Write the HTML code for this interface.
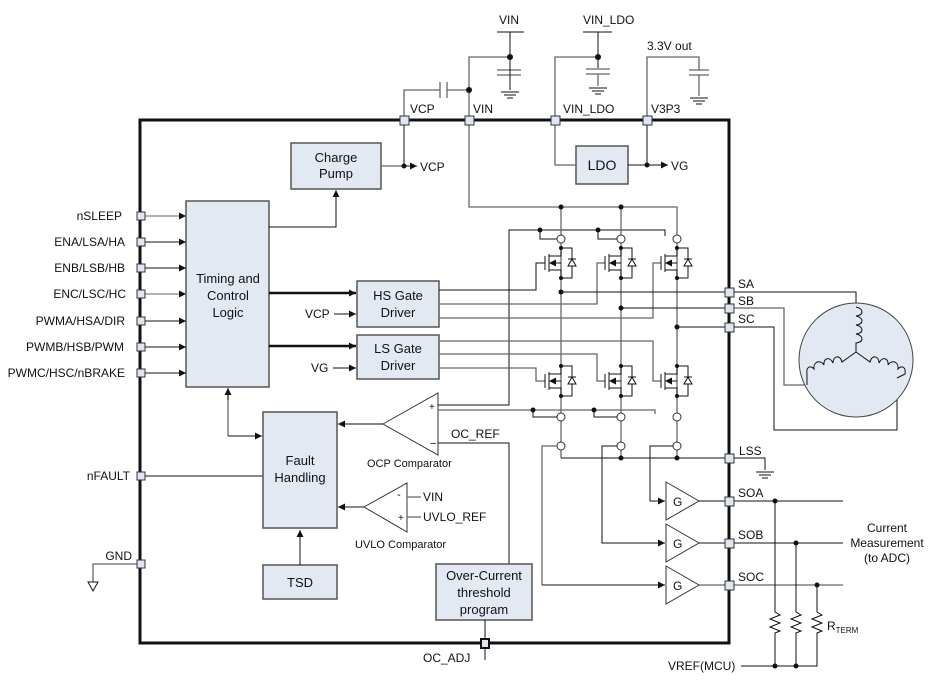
<!DOCTYPE html>
<html><head><meta charset="utf-8"><style>
html,body{margin:0;padding:0;background:#fff;}
svg{display:block;}
text{font-family:"Liberation Sans",Arial,sans-serif;font-size:12px;fill:#111;}
.bx{fill:#e3e9f3;stroke:#555;stroke-width:1.5;}
.pin{fill:#dfe6f0;stroke:#333;stroke-width:1;}
.w{stroke:#111;stroke-width:1;fill:none;}
.g{stroke:#666;stroke-width:1.3;fill:none;}
.k{stroke:#111;stroke-width:2.5;fill:none;}
</style></head><body>
<svg width="934" height="683" viewBox="0 0 934 683" xmlns="http://www.w3.org/2000/svg">
<defs>
<marker id="a" viewBox="0 0 10 10" refX="10" refY="5" markerWidth="7" markerHeight="7" markerUnits="userSpaceOnUse" orient="auto"><path d="M0,0 L10,5 L0,10 z" fill="#111"/></marker>
<g id="fet">
<path class="w" d="M0,0 V8 H-12 M-12,6 V24 M-12,22 H0 V30 M-16,8 V22 M-6,15 H0"/>
<path d="M-12,15 l7,-3.5 v7 z" fill="#111"/>
<path class="w" d="M0,0 H11 V30 H0 M7,11 H15"/>
<path d="M7,18 L15,18 L11,11 z" fill="#fff" stroke="#111" stroke-width="1"/>
<circle cx="0" cy="0" r="2" fill="#111"/><circle cx="0" cy="30" r="2" fill="#111"/>
</g>
<g id="gnd"><path class="w" d="M-9,0 H9 M-6,3 H6 M-3,6 H3"/></g>
<g id="res"><path class="w" d="M0,0 V8 l5,3 l-10,4 l10,4 l-10,4 l10,4 l-5,2 V37"/></g>
</defs>

<!-- Main box -->
<rect x="140" y="120" width="589" height="523" fill="none" stroke="#111" stroke-width="3"/>

<!-- top external circuitry -->
<text x="499" y="24">VIN</text>
<path class="w" d="M497,32 H524 M510,32 V87"/>
<path class="g" d="M469,120 V57 H510 M497,70 H521 M497,75 H521"/>
<path class="w" d="M510,57 V90"/>
<use href="#gnd" x="510" y="92"/>
<circle cx="510" cy="57" r="3" fill="#111"/>
<path class="g" d="M404,120 V90 H440 M447,90 H469 M440,82 V98 M447,82 V98"/>
<circle cx="469" cy="90" r="3" fill="#111"/>

<text x="583" y="24">VIN_LDO</text>
<path class="w" d="M583,32 H612 M598,32 V68"/>
<path class="g" d="M555,120 V57 H598 M586,69 H610 M586,74 H610 M598,74 V86"/>
<use href="#gnd" x="598" y="88"/>
<circle cx="598" cy="57" r="3" fill="#111"/>

<text x="647" y="50">3.3V out</text>
<path class="g" d="M647,120 V57 H699 V70 M689,70 H709 M689,75 H709 M699,75 V96"/>
<use href="#gnd" x="699" y="98"/>

<!-- pin labels top -->
<text x="410" y="113">VCP</text>
<text x="473" y="113">VIN</text>
<text x="563" y="113">VIN_LDO</text>
<text x="651" y="113">V3P3</text>

<!-- LDO -->
<path class="g" d="M555,120 V165 H576"/>
<rect class="bx" x="576" y="146" width="52" height="38"/>
<text x="602" y="170" text-anchor="middle" style="font-size:14px">LDO</text>
<path class="w" d="M628,165 H647 M647,120 V165"/>
<path class="w" d="M647,165 H668" marker-end="url(#a)"/>
<circle cx="647" cy="165" r="2.5" fill="#111"/>
<text x="671" y="170">VG</text>

<!-- Charge pump -->
<rect class="bx" x="291" y="143" width="90" height="46"/>
<text x="336" y="162" text-anchor="middle" style="font-size:13px">Charge</text>
<text x="336" y="178" text-anchor="middle" style="font-size:13px">Pump</text>
<path class="g" d="M381,166 H403"/>
<path class="w" d="M404,120 V166"/>
<path class="w" d="M403,166 H417" marker-end="url(#a)"/>
<circle cx="404" cy="166" r="2.5" fill="#111"/>
<text x="420" y="171">VCP</text>

<!-- Timing -->
<rect class="bx" x="186" y="201" width="83" height="186"/>
<text x="228" y="283" text-anchor="middle" style="font-size:13px">Timing and</text>
<text x="228" y="300" text-anchor="middle" style="font-size:13px">Control</text>
<text x="228" y="317" text-anchor="middle" style="font-size:13px">Logic</text>
<path class="w" d="M269,227 H336 V190" marker-end="url(#a)"/>

<!-- left pins -->
<g class="w">
<path d="M145,216 H186" marker-end="url(#a)" stroke="#666"/>
<path d="M145,242 H186" marker-end="url(#a)"/>
<path d="M145,268 H186" marker-end="url(#a)"/>
<path d="M145,294 H186" marker-end="url(#a)" stroke="#666"/>
<path d="M145,321 H186" marker-end="url(#a)"/>
<path d="M145,347 H186" marker-end="url(#a)"/>
<path d="M145,373 H186" marker-end="url(#a)"/>
</g>
<g text-anchor="end">
<text x="122" y="220">nSLEEP</text>
<text x="125" y="246">ENA/LSA/HA</text>
<text x="125" y="272">ENB/LSB/HB</text>
<text x="126" y="298">ENC/LSC/HC</text>
<text x="125" y="325">PWMA/HSA/DIR</text>
<text x="124" y="351">PWMB/HSB/PWM</text>
<text x="125" y="377">PWMC/HSC/nBRAKE</text>
<text x="130" y="480">nFAULT</text>
<text x="132" y="560">GND</text>
</g>
<rect class="pin" x="137" y="212" width="8" height="8"/>
<rect class="pin" x="137" y="238" width="8" height="8"/>
<rect class="pin" x="137" y="264" width="8" height="8"/>
<rect class="pin" x="137" y="290" width="8" height="8"/>
<rect class="pin" x="137" y="317" width="8" height="8"/>
<rect class="pin" x="137" y="343" width="8" height="8"/>
<rect class="pin" x="137" y="369" width="8" height="8"/>
<path class="w" d="M145,476 H263"/>
<rect class="pin" x="137" y="472" width="8" height="8"/>
<path class="g" d="M137,564 H93 V582"/>
<path d="M88,582 H98 L93,591 z" fill="#fff" stroke="#111"/>
<rect class="pin" x="137" y="560" width="8" height="8"/>

<!-- Gate drivers -->
<rect class="bx" x="357" y="281" width="82" height="46"/>
<text x="398" y="300" text-anchor="middle" style="font-size:13px">HS Gate</text>
<text x="398" y="317" text-anchor="middle" style="font-size:13px">Driver</text>
<rect class="bx" x="357" y="335" width="82" height="44"/>
<text x="398" y="353" text-anchor="middle" style="font-size:13px">LS Gate</text>
<text x="398" y="370" text-anchor="middle" style="font-size:13px">Driver</text>
<path d="M269,293 H356" stroke="#111" stroke-width="2.5" marker-end="url(#a)"/>
<path d="M269,346 H356" stroke="#111" stroke-width="2.5" marker-end="url(#a)"/>
<text x="305" y="318">VCP</text>
<path class="w" d="M334,314 H356" marker-end="url(#a)"/>
<text x="311" y="372">VG</text>
<path class="w" d="M333,368 H356" marker-end="url(#a)"/>

<!-- Fault handling -->
<path class="g" d="M228,391 V436"/>
<path class="w" d="M228,400 V388" marker-end="url(#a)"/>
<path class="w" d="M228,436 H262" marker-end="url(#a)"/>
<rect class="bx" x="263" y="412" width="74" height="116"/>
<text x="300" y="465" text-anchor="middle" style="font-size:13px">Fault</text>
<text x="300" y="482" text-anchor="middle" style="font-size:13px">Handling</text>
<rect class="bx" x="263" y="565" width="74" height="34"/>
<text x="300" y="587" text-anchor="middle" style="font-size:13px">TSD</text>
<path class="w" d="M300,565 V530" marker-end="url(#a)"/>

<!-- OCP comparator -->
<path d="M383,424 L438,393 L438,455 z" fill="#fff" stroke="#333"/>
<text x="429" y="410" style="font-size:10px">+</text>
<text x="430" y="447" style="font-size:11px">−</text>
<path class="w" d="M383,424 H338" marker-end="url(#a)"/>
<path class="w" d="M438,405 H509 V230 H665 V236"/>
<path class="g" d="M438,410 H655 V414"/>
<path class="w" d="M438,443 H509 V564"/>
<text x="451" y="438">OC_REF</text>
<text x="367" y="467" style="font-size:11px">OCP Comparator</text>

<!-- UVLO -->
<path d="M364,507 L407,483 L407,532 z" fill="#fff" stroke="#333"/>
<text x="397" y="498" style="font-size:11px">-</text>
<text x="398" y="521" style="font-size:10px">+</text>
<path class="g" d="M407,497 H421 M407,517 H421"/>
<text x="423" y="501">VIN</text>
<text x="423" y="521">UVLO_REF</text>
<path class="w" d="M364,507 H338" marker-end="url(#a)"/>
<text x="355" y="548" style="font-size:11px">UVLO Comparator</text>

<!-- OC threshold -->
<rect class="bx" x="436" y="564" width="96" height="56"/>
<text x="484" y="580" text-anchor="middle" style="font-size:13px">Over-Current</text>
<text x="484" y="597" text-anchor="middle" style="font-size:13px">threshold</text>
<text x="484" y="614" text-anchor="middle" style="font-size:13px">program</text>
<path class="w" d="M485,620 V660"/>
<rect x="481" y="639" width="8" height="9" fill="#dfe6f0" stroke="#111" stroke-width="2"/>
<text x="423" y="662">OC_ADJ</text>

<!-- bridge -->
<path class="g" d="M469,120 V207 H677 V236"/>
<path class="g" d="M561,207 V458 M621,207 V458 M677,236 V458"/>
<circle cx="561" cy="207" r="2.5" fill="#111"/><circle cx="621" cy="207" r="2.5" fill="#111"/>
<path class="w" d="M540,230 V239 H557 M598,230 V239 H617"/>
<circle cx="540" cy="230" r="2.5" fill="#111"/><circle cx="598" cy="230" r="2.5" fill="#111"/>
<!-- HS gate lines -->
<path class="w" d="M439,290 H536 V263 H545"/>
<path class="g" d="M439,304 H597 V263 H605"/>
<path class="g" d="M439,318 H653 V263 H661"/>
<!-- LS gate lines -->
<path class="g" d="M439,341 H653 V381 H661"/>
<path class="g" d="M439,354 H597 V381 H605"/>
<path class="g" d="M439,368 H536 V381 H545"/>
<use href="#fet" x="561" y="248"/><use href="#fet" x="621" y="248"/><use href="#fet" x="677" y="248"/>
<use href="#fet" x="561" y="366"/><use href="#fet" x="621" y="366"/><use href="#fet" x="677" y="366"/>
<!-- sense circles -->
<g fill="#fff" stroke="#333">
<circle cx="561" cy="239" r="4"/><circle cx="621" cy="239" r="4"/><circle cx="677" cy="239" r="4"/>
<circle cx="561" cy="417" r="4"/><circle cx="621" cy="417" r="4"/><circle cx="677" cy="417" r="4"/>
<circle cx="561" cy="446" r="4"/><circle cx="621" cy="446" r="4"/><circle cx="677" cy="446" r="4"/>
</g>
<path class="w" d="M533,410 V417 H557 M594,410 V417 H617"/>
<circle cx="533" cy="410" r="2.5" fill="#111"/><circle cx="594" cy="410" r="2.5" fill="#111"/>
<!-- phase outputs -->
<path class="w" d="M561,292 H729 M621,308 H729 M677,327 H729"/>
<circle cx="561" cy="292" r="2.5" fill="#111"/><circle cx="621" cy="308" r="2.5" fill="#111"/><circle cx="677" cy="327" r="2.5" fill="#111"/>
<path class="w" d="M561,458 H729 M729,458 H765 V470"/>
<use href="#gnd" x="765" y="472"/>
<circle cx="621" cy="458" r="2.5" fill="#111"/><circle cx="677" cy="458" r="2.5" fill="#111"/>
<!-- amp inputs -->
<path class="w" d="M673,446 H650 V501 H665" marker-end="url(#a)"/>
<path class="w" d="M617,446 H602 V543 H665" marker-end="url(#a)"/>
<path class="g" d="M557,446 H542 V585"/>
<path class="w" d="M542,585 H665" marker-end="url(#a)"/>
<!-- amps -->
<g fill="#fff" stroke="#333">
<path d="M666,482 L699,501 L666,520 z"/>
<path d="M666,524 L699,543 L666,562 z"/>
<path d="M666,566 L699,585 L666,604 z"/>
</g>
<text x="673" y="506">G</text><text x="673" y="548">G</text><text x="673" y="590">G</text>
<path class="w" d="M699,501 H843 M699,543 H843"/>
<path class="g" d="M699,585 H843"/>
<!-- right pins -->
<rect class="pin" x="725" y="288" width="9" height="9"/>
<rect class="pin" x="725" y="304" width="9" height="9"/>
<rect class="pin" x="725" y="323" width="9" height="9"/>
<rect class="pin" x="725" y="454" width="9" height="9"/>
<rect class="pin" x="725" y="497" width="9" height="9"/>
<rect class="pin" x="725" y="539" width="9" height="9"/>
<rect class="pin" x="725" y="581" width="9" height="9"/>
<text x="738" y="288">SA</text><text x="738" y="305">SB</text><text x="738" y="323">SC</text>
<text x="739" y="455">LSS</text><text x="738" y="497">SOA</text><text x="738" y="539">SOB</text><text x="738" y="581">SOC</text>
<!-- top pins -->
<rect class="pin" x="400" y="116" width="9" height="9"/>
<rect class="pin" x="465" y="116" width="9" height="9"/>
<rect class="pin" x="551" y="116" width="9" height="9"/>
<rect class="pin" x="643" y="116" width="9" height="9"/>

<!-- motor -->
<path class="w" d="M734,292 H856 V307"/>
<path class="g" d="M734,308 H784 V385 H808"/>
<path class="w" d="M734,327 H774 V430 H897 V378"/>
<circle cx="856" cy="360" r="57" fill="#e3e9f3" stroke="#444"/>
<path class="w" d="M856,307 c8,2 8,8 0,9 c8,2 8,8 0,9 c8,2 8,8 0,9 c8,2 8,8 0,9 V352 M856,352 L842,362 c-2,-8 -9,-6 -9,1 c-3,-7 -10,-5 -9,2 c-4,-6 -11,-3 -10,4 c-4,-4 -8,-2 -7,5 L807,385 M856,352 L870,362 c2,-8 9,-6 9,1 c3,-7 10,-5 9,2 c4,-6 11,-3 10,4 c4,-4 8,-2 7,5 L897,378"/>

<!-- current measurement -->
<text x="887" y="532" text-anchor="middle">Current</text>
<text x="887" y="547" text-anchor="middle">Measurement</text>
<text x="887" y="562" text-anchor="middle">(to ADC)</text>
<path class="w" d="M775,501 V610 M796,543 V610 M817,585 V610"/>
<use href="#res" x="775" y="604"/><use href="#res" x="796" y="604"/><use href="#res" x="817" y="604"/>
<path class="w" d="M775,641 V666 M796,641 V666 M817,641 V666 H741"/>
<circle cx="775" cy="501" r="2.5" fill="#111"/><circle cx="796" cy="543" r="2.5" fill="#111"/><circle cx="817" cy="585" r="2.5" fill="#111"/>
<circle cx="775" cy="666" r="2.5" fill="#111"/><circle cx="796" cy="666" r="2.5" fill="#111"/>
<text x="827" y="630">R<tspan style="font-size:8px" dy="3">TERM</tspan></text>
<text x="668" y="670">VREF(MCU)</text>
</svg>
</body></html>
